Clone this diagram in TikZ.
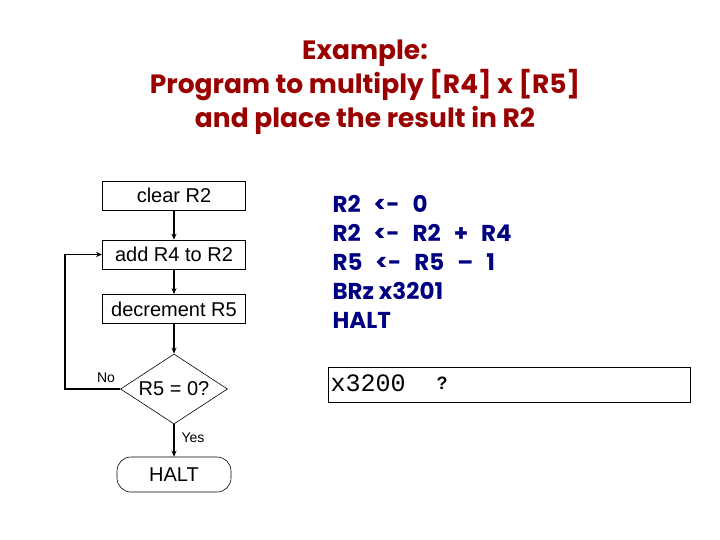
\documentclass[tikz,border=0pt]{standalone}
\usepackage{fontspec}
\setmainfont{Liberation Sans}
\newfontfamily\titlefont{Poppins}
\newfontfamily\codefont{Poppins}
\newfontfamily\monofont{Liberation Mono}
\usetikzlibrary{shapes.geometric,arrows.meta}
\definecolor{titlered}{HTML}{990000}
\definecolor{codeblue}{HTML}{000080}
\newcommand{\tokgap}{\hspace{13pt}}
\begin{document}
\begin{tikzpicture}[x=1pt,y=-1pt,
  procbox/.style={draw,line width=0.8pt,minimum width=143pt,minimum height=29pt,inner sep=0pt,font=\fontsize{20}{22}\selectfont},
  decision/.style={draw,line width=0.6pt,diamond,aspect=1.5,minimum width=107pt,minimum height=70pt,inner sep=0pt,font=\fontsize{20}{22}\selectfont},
  terminal/.style={draw,line width=0.6pt,rounded corners=14pt,minimum width=114pt,minimum height=35pt,inner sep=0pt,font=\fontsize{20}{22}\selectfont},
  flow/.style={line width=1.4pt,-{Stealth[length=6pt,width=5pt]}},
  small/.style={font=\fontsize{14}{15}\selectfont},
  titletext/.style={font=\titlefont\bfseries\fontsize{26.5}{34}\selectfont,text=titlered,align=center},
  codeline/.style={font=\codefont\bfseries\fontsize{23}{24}\selectfont,text=codeblue,anchor=west}]
\useasboundingbox (0,0) rectangle (720,540);
\node[titletext] (title) at (365,87) {Example:\\[0pt]Program to multiply [R4] x [R5]\\[0pt]and place the result in R2};
\node[procbox] (clear) at (174,195.5) {clear R2};
\node[procbox] (add) at (174,254.5) {add R4 to R2};
\node[procbox] (dec) at (174,309) {decrement R5};
\node[decision] (test) at (174,389) {R5 = 0?};
\node[terminal] (halt) at (174,474.5) {HALT};
\coordinate (loopbot) at (65,389);
\coordinate (looptop) at (65,254.5);
\draw[flow] (clear) -- (add);
\draw[flow] (add) -- (dec);
\draw[flow] (dec) -- (test);
\draw[flow] (test) -- (halt);
\draw[flow] (test.west) -- (loopbot) -- (looptop) -- (add.west);
\node[small] (no) at (106,378) {No};
\node[small] (yes) at (193,438) {Yes};
\node[codeline] (c1) at (329,204) {R2\tokgap<-\tokgap0};
\node[codeline] (c2) at (329,233) {R2\tokgap<-\tokgap R2\tokgap+\tokgap R4};
\node[codeline] (c3) at (329,262) {R5\tokgap<-\tokgap R5\tokgap–\tokgap1};
\node[codeline] (c4) at (329,291) {BRz x3201};
\node[codeline] (c5) at (329,320) {HALT};
\node[draw,line width=0.6pt,minimum width=362pt,minimum height=35pt,inner sep=0pt] (mem) at (509,384.5) {};
\node[anchor=west,font=\monofont\fontsize{25}{26}\selectfont] (addr) at (327,383) {x3200};
\node[anchor=west,font=\fontsize{18}{20}\selectfont\bfseries] (val) at (433,383) {?};
\end{tikzpicture}
\end{document}
